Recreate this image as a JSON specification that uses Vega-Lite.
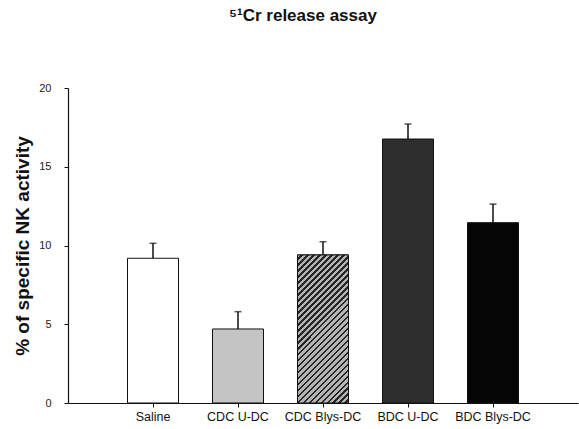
{
  "$schema": "https://vega.github.io/schema/vega-lite/v6.json",
  "autosize": {"type": "none"},
  "padding": {"left": 68, "top": 88, "right": 1, "bottom": 26},
  "width": 510,
  "height": 315,
  "background": "white",
  "title": {
    "text": "⁵¹Cr release assay",
    "fontSize": 17,
    "fontWeight": "bold",
    "font": "Liberation Sans",
    "color": "#111",
    "anchor": "middle",
    "dx": -20,
    "offset": 57
  },
  "config": {
    "view": {"stroke": null},
    "font": "Liberation Sans"
  },
  "data": {
    "values": [
      {"group": "Saline", "value": 9.19, "upper": 10.14},
      {"group": "CDC U-DC", "value": 4.70, "upper": 5.80},
      {"group": "CDC Blys-DC", "value": 9.40, "upper": 10.24},
      {"group": "BDC U-DC", "value": 16.76, "upper": 17.71},
      {"group": "BDC Blys-DC", "value": 11.45, "upper": 12.63}
    ]
  },
  "encoding": {
    "x": {
      "field": "group",
      "type": "nominal",
      "sort": null,
      "scale": {"paddingInner": 0.4, "paddingOuter": 0.7},
      "axis": {
        "title": null,
        "labelAngle": 0,
        "labelFontSize": 12.5,
        "labelColor": "#111",
        "labelPadding": 3,
        "tickSize": 4,
        "tickColor": "#111",
        "domainColor": "#111",
        "domainWidth": 1.2
      }
    }
  },
  "layer": [
    {
      "mark": {"type": "bar", "stroke": "#111", "strokeWidth": 1},
      "encoding": {
        "y": {
          "field": "value",
          "type": "quantitative",
          "scale": {"domain": [0, 20], "nice": false},
          "axis": {
            "title": "% of specific NK activity",
            "titleFontSize": 19,
            "titleFontWeight": "bold",
            "titleColor": "#111",
            "titlePadding": 6,
            "values": [0, 5, 10, 15, 20],
            "grid": false,
            "labelFontSize": 11,
            "labelColor": "#222",
            "labelPadding": 13,
            "tickSize": 4,
            "tickColor": "#111",
            "domainColor": "#111",
            "domainWidth": 1.2
          }
        },
        "color": {
          "field": "group",
          "type": "nominal",
          "legend": null,
          "scale": {
            "domain": ["Saline", "CDC U-DC", "CDC Blys-DC", "BDC U-DC", "BDC Blys-DC"],
            "range": ["#ffffff", "#c4c4c4", "#9a9a9a", "#2e2e2e", "#050505"]
          }
        }
      }
    },
    {
      "transform": [{"filter": "datum.group === 'CDC Blys-DC'"}],
      "mark": {
        "type": "bar",
        "stroke": "#111",
        "strokeWidth": 1,
        "fill": {
          "gradient": "linear",
          "x1": 0, "y1": 0, "x2": 0.4142, "y2": 1.2019,
          "stops": [
            {"offset": 0, "color": "#b4b4b4"}, {"offset": 0.017, "color": "#b4b4b4"}, {"offset": 0.017, "color": "#262626"}, {"offset": 0.03, "color": "#262626"},
            {"offset": 0.03, "color": "#b4b4b4"}, {"offset": 0.047, "color": "#b4b4b4"}, {"offset": 0.047, "color": "#262626"}, {"offset": 0.06, "color": "#262626"},
            {"offset": 0.06, "color": "#b4b4b4"}, {"offset": 0.077, "color": "#b4b4b4"}, {"offset": 0.077, "color": "#262626"}, {"offset": 0.09, "color": "#262626"},
            {"offset": 0.09, "color": "#b4b4b4"}, {"offset": 0.107, "color": "#b4b4b4"}, {"offset": 0.107, "color": "#262626"}, {"offset": 0.12, "color": "#262626"},
            {"offset": 0.12, "color": "#b4b4b4"}, {"offset": 0.137, "color": "#b4b4b4"}, {"offset": 0.137, "color": "#262626"}, {"offset": 0.15, "color": "#262626"},
            {"offset": 0.15, "color": "#b4b4b4"}, {"offset": 0.167, "color": "#b4b4b4"}, {"offset": 0.167, "color": "#262626"}, {"offset": 0.18, "color": "#262626"},
            {"offset": 0.18, "color": "#b4b4b4"}, {"offset": 0.197, "color": "#b4b4b4"}, {"offset": 0.197, "color": "#262626"}, {"offset": 0.21, "color": "#262626"},
            {"offset": 0.21, "color": "#b4b4b4"}, {"offset": 0.227, "color": "#b4b4b4"}, {"offset": 0.227, "color": "#262626"}, {"offset": 0.24, "color": "#262626"},
            {"offset": 0.24, "color": "#b4b4b4"}, {"offset": 0.257, "color": "#b4b4b4"}, {"offset": 0.257, "color": "#262626"}, {"offset": 0.27, "color": "#262626"},
            {"offset": 0.27, "color": "#b4b4b4"}, {"offset": 0.287, "color": "#b4b4b4"}, {"offset": 0.287, "color": "#262626"}, {"offset": 0.30, "color": "#262626"},
            {"offset": 0.30, "color": "#b4b4b4"}, {"offset": 0.317, "color": "#b4b4b4"}, {"offset": 0.317, "color": "#262626"}, {"offset": 0.33, "color": "#262626"},
            {"offset": 0.33, "color": "#b4b4b4"}, {"offset": 0.347, "color": "#b4b4b4"}, {"offset": 0.347, "color": "#262626"}, {"offset": 0.36, "color": "#262626"},
            {"offset": 0.36, "color": "#b4b4b4"}, {"offset": 0.377, "color": "#b4b4b4"}, {"offset": 0.377, "color": "#262626"}, {"offset": 0.39, "color": "#262626"},
            {"offset": 0.39, "color": "#b4b4b4"}, {"offset": 0.407, "color": "#b4b4b4"}, {"offset": 0.407, "color": "#262626"}, {"offset": 0.42, "color": "#262626"},
            {"offset": 0.42, "color": "#b4b4b4"}, {"offset": 0.437, "color": "#b4b4b4"}, {"offset": 0.437, "color": "#262626"}, {"offset": 0.45, "color": "#262626"},
            {"offset": 0.45, "color": "#b4b4b4"}, {"offset": 0.467, "color": "#b4b4b4"}, {"offset": 0.467, "color": "#262626"}, {"offset": 0.48, "color": "#262626"},
            {"offset": 0.48, "color": "#b4b4b4"}, {"offset": 0.497, "color": "#b4b4b4"}, {"offset": 0.497, "color": "#262626"}, {"offset": 0.51, "color": "#262626"},
            {"offset": 0.51, "color": "#b4b4b4"}, {"offset": 0.527, "color": "#b4b4b4"}, {"offset": 0.527, "color": "#262626"}, {"offset": 0.54, "color": "#262626"},
            {"offset": 0.54, "color": "#b4b4b4"}, {"offset": 0.557, "color": "#b4b4b4"}, {"offset": 0.557, "color": "#262626"}, {"offset": 0.57, "color": "#262626"},
            {"offset": 0.57, "color": "#b4b4b4"}, {"offset": 0.587, "color": "#b4b4b4"}, {"offset": 0.587, "color": "#262626"}, {"offset": 0.60, "color": "#262626"},
            {"offset": 0.60, "color": "#b4b4b4"}, {"offset": 0.617, "color": "#b4b4b4"}, {"offset": 0.617, "color": "#262626"}, {"offset": 0.63, "color": "#262626"},
            {"offset": 0.63, "color": "#b4b4b4"}, {"offset": 0.647, "color": "#b4b4b4"}, {"offset": 0.647, "color": "#262626"}, {"offset": 0.66, "color": "#262626"},
            {"offset": 0.66, "color": "#b4b4b4"}, {"offset": 0.677, "color": "#b4b4b4"}, {"offset": 0.677, "color": "#262626"}, {"offset": 0.69, "color": "#262626"},
            {"offset": 0.69, "color": "#b4b4b4"}, {"offset": 0.707, "color": "#b4b4b4"}, {"offset": 0.707, "color": "#262626"}, {"offset": 0.72, "color": "#262626"},
            {"offset": 0.72, "color": "#b4b4b4"}, {"offset": 0.737, "color": "#b4b4b4"}, {"offset": 0.737, "color": "#262626"}, {"offset": 0.75, "color": "#262626"},
            {"offset": 0.75, "color": "#b4b4b4"}, {"offset": 0.767, "color": "#b4b4b4"}, {"offset": 0.767, "color": "#262626"}, {"offset": 0.78, "color": "#262626"},
            {"offset": 0.78, "color": "#b4b4b4"}, {"offset": 0.797, "color": "#b4b4b4"}, {"offset": 0.797, "color": "#262626"}, {"offset": 0.81, "color": "#262626"},
            {"offset": 0.81, "color": "#b4b4b4"}, {"offset": 0.827, "color": "#b4b4b4"}, {"offset": 0.827, "color": "#262626"}, {"offset": 0.84, "color": "#262626"},
            {"offset": 0.84, "color": "#b4b4b4"}, {"offset": 0.857, "color": "#b4b4b4"}, {"offset": 0.857, "color": "#262626"}, {"offset": 0.87, "color": "#262626"},
            {"offset": 0.87, "color": "#b4b4b4"}, {"offset": 0.887, "color": "#b4b4b4"}, {"offset": 0.887, "color": "#262626"}, {"offset": 0.90, "color": "#262626"},
            {"offset": 0.90, "color": "#b4b4b4"}, {"offset": 0.917, "color": "#b4b4b4"}, {"offset": 0.917, "color": "#262626"}, {"offset": 0.93, "color": "#262626"},
            {"offset": 0.93, "color": "#b4b4b4"}, {"offset": 0.947, "color": "#b4b4b4"}, {"offset": 0.947, "color": "#262626"}, {"offset": 0.96, "color": "#262626"},
            {"offset": 0.96, "color": "#b4b4b4"}, {"offset": 0.977, "color": "#b4b4b4"}, {"offset": 0.977, "color": "#262626"}, {"offset": 0.99, "color": "#262626"},
            {"offset": 0.99, "color": "#b4b4b4"}, {"offset": 1, "color": "#b4b4b4"}
          ]
        }
      },
      "encoding": {
        "y": {"field": "value", "type": "quantitative"}
      }
    },
    {
      "mark": {"type": "rule", "color": "#111", "strokeWidth": 1.5},
      "encoding": {
        "y": {"field": "value", "type": "quantitative"},
        "y2": {"field": "upper"}
      }
    },
    {
      "mark": {"type": "tick", "color": "#111", "size": 7, "thickness": 1.5, "orient": "horizontal"},
      "encoding": {
        "y": {"field": "upper", "type": "quantitative"}
      }
    }
  ]
}
